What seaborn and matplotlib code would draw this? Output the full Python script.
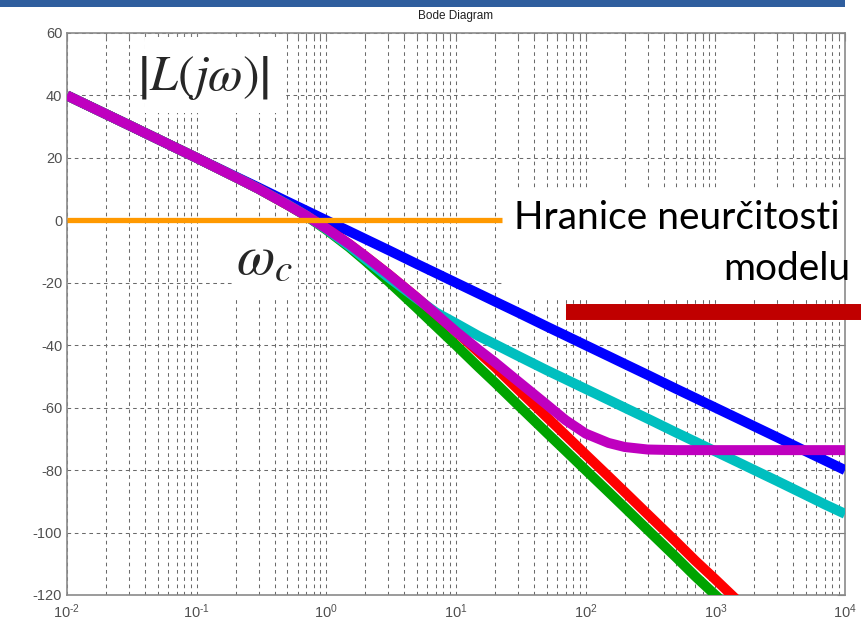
import numpy as np
import pandas as pd
import matplotlib
matplotlib.use("Agg")
import matplotlib.pyplot as plt
from matplotlib.patches import Rectangle
from matplotlib.ticker import LogLocator, FixedLocator, FuncFormatter, NullFormatter
import seaborn as sns

# Frequencies (rad/s) and open-loop magnitudes (dB) for the five loop designs
freq = [0.01, 0.03, 0.1, 0.2, 0.3, 0.5, 0.7, 1, 1.5, 2, 3, 5, 7, 10, 15, 20, 30,
        50, 70, 100, 150, 200, 300, 500, 700, 1000, 1500, 2000, 3000, 5000, 7000, 10000]
nan = np.nan
mag_blue = [40.0, 30.5, 20.0, 14.0, 10.5, 6.0, 3.1, 0.0, -3.5, -6.0, -9.5, -14.0, -16.9,
            -20.0, -23.5, -26.0, -29.5, -34.0, -36.9, -40.0, -43.5, -46.0, -49.5, -54.0,
            -56.9, -60.0, -63.5, -66.0, -69.5, -74.0, -76.9, -80.0]
mag_green = [40.0, 30.5, 20.0, 13.8, 10.1, 5.0, 1.4, -3.0, -8.6, -13.0, -19.5, -28.1, -33.9,
             -40.0, -47.1, -52.0, -59.1, -68.0, -73.8, -80.0, -87.0, -92.0, -99.1, -108.0,
             -114.0, -120.0, -127.0, nan, nan, nan, nan, nan]
mag_red = [40.0, 30.5, 20.0, 13.8, 10.1, 5.0, 1.5, -2.6, -7.6, -11.5, -17.2, -24.8, -30.0,
           -35.6, -42.3, -47.0, -54.1, -63.0, -68.8, -75.0, -82.0, -87.0, -94.1, -103.0,
           -109.0, -115.0, -122.0, -127.0, nan, nan, nan, nan]
mag_cyan = [40.0, 30.5, 20.0, 13.8, 10.1, 5.1, 1.5, -2.8, -8.2, -12.4, -18.2, -25.1, -29.5,
            -33.0, -37.1, -39.7, -43.4, -48.0, -50.9, -54.0, -57.5, -60.0, -63.5, -68.0,
            -70.9, -74.0, -77.5, -80.0, -83.5, -88.0, -91.0, -94.0]
mag_magenta = [40.0, 30.5, 20.0, 13.8, 10.1, 5.0, 1.5, -2.6, -7.6, -11.5, -17.2, -24.8, -30.0,
               -35.6, -41.5, -45.5, -51.5, -59.0, -64.0, -68.3, -71.3, -72.6, -73.4, -73.6,
               -73.6, -73.6, -73.6, -73.6, -73.6, -73.6, -73.6, -73.6]

series = [("blue", mag_blue, "#0000FF"),
          ("green", mag_green, "#00A400"),
          ("red", mag_red, "#FF0000"),
          ("cyan", mag_cyan, "#00BFBF"),
          ("magenta", mag_magenta, "#BF00BF")]

# Crossover reference line and model-uncertainty bound
zero_level = 0.0
zero_span = [0.01, 22.6]
bound_level = -29.5
bound_span = [71.0, 13500.0]

x_ticks = [1e-2, 1e-1, 1e0, 1e1, 1e2, 1e3, 1e4]
y_ticks = [60, 40, 20, 0, -20, -40, -60, -80, -100, -120]

sns.set_style("white")
plt.rcParams["font.family"] = ["Liberation Sans", "DejaVu Sans"]
plt.rcParams["axes.unicode_minus"] = False
plt.rcParams["mathtext.fontset"] = "custom"
plt.rcParams["mathtext.rm"] = "Liberation Sans"
plt.rcParams["mathtext.it"] = "Liberation Sans:italic"

W, H = 862, 622
fig = plt.figure(figsize=(W / 100, H / 100), dpi=100)
fig.patch.set_facecolor("white")
ax = fig.add_axes([67 / W, 1 - 595 / H, (845 - 67) / W, (595 - 33) / H])

ax.set_xscale("log")
ax.set_xlim(1e-2, 1e4)
ax.set_ylim(-120, 60)

# Grid in dotted MATLAB style
grid_kw = dict(color="#6a6a6a", linewidth=0.75, linestyle=(0, (3.5, 3.5)))
ax.xaxis.set_major_locator(FixedLocator(x_ticks))
ax.xaxis.set_minor_locator(LogLocator(base=10, subs=np.arange(2, 10), numticks=20))
ax.yaxis.set_major_locator(FixedLocator(y_ticks))
ax.grid(True, which="major", axis="both", **grid_kw)
ax.grid(True, which="minor", axis="x", **grid_kw)
ax.set_axisbelow(True)

def fmt_pow(v, pos):
    e = int(round(np.log10(v)))
    return "10$^{\\mathrm{%s}}$" % ("{\\text{-}}%d" % -e if e < 0 else "%d" % e)

ax.xaxis.set_major_formatter(FuncFormatter(fmt_pow))
ax.xaxis.set_minor_formatter(NullFormatter())
ax.tick_params(axis="both", which="both", direction="in", top=True, right=True,
               colors="#7a7a7a", labelcolor="#505050", labelsize=10.5)
ax.tick_params(axis="both", which="major", length=6, width=0.8)
ax.tick_params(axis="both", which="minor", length=4, width=0.8)
ax.tick_params(axis="x", pad=5)
for s in ax.spines.values():
    s.set_color("#8a8a8a")
    s.set_linewidth(1.2)

# White backing boxes behind the annotations
box_kw = dict(facecolor="white", edgecolor="none", zorder=1.5)
ax.add_patch(Rectangle((0.1, 0.857), 0.18, 0.135, transform=ax.transAxes, **box_kw))
ax.add_patch(Rectangle((0.216, 0.53), 0.08, 0.132, transform=ax.transAxes, **box_kw))
ax.add_patch(Rectangle((0.563, 0.53), 0.45, 0.19, transform=ax.transAxes,
                       clip_on=False, **box_kw))

# Loop magnitude curves
for name, mags, col in series:
    df = pd.DataFrame({"freq": freq, "mag": mags}).dropna()
    sns.lineplot(data=df, x="freq", y="mag", ax=ax, color=col, linewidth=7.2,
                 sort=False, estimator=None, zorder=3,
                 solid_capstyle="butt", solid_joinstyle="round")

ax.plot(zero_span, [zero_level, zero_level], color="#FF9900", linewidth=3.8,
        solid_capstyle="butt", zorder=5)
ax.plot(bound_span, [bound_level, bound_level], color="#C00000", linewidth=11.5,
        solid_capstyle="butt", zorder=5, clip_on=False)

ax.set_xlabel("")
ax.set_ylabel("")
ax.set_title("Bode Diagram", fontsize=8.5, color="#202020", pad=10)

# Annotations
ax.text(0.112, 45.5, r"$\left|L(j\omega)\right|$", fontsize=36, ha="center", va="center",
        math_fontfamily="stix", zorder=6)
ax.text(0.335, -12.5, r"$\omega_c$", fontsize=40, ha="center", va="center",
        math_fontfamily="stix", zorder=6)
fig.text(840 / W, 1 - 229 / H, "Hranice neurčitosti", fontsize=28, family="Lato",
         ha="right", va="baseline", color="black")
fig.text(850 / W, 1 - 280 / H, "modelu", fontsize=28, family="Lato",
         ha="right", va="baseline", color="black")

# Slide header band
fig.add_artist(Rectangle((0, 1 - 7 / H), 845 / W, 7 / H, transform=fig.transFigure,
                         facecolor="#2F5E9E", edgecolor="none"))

fig.savefig("out.png", dpi=100)
